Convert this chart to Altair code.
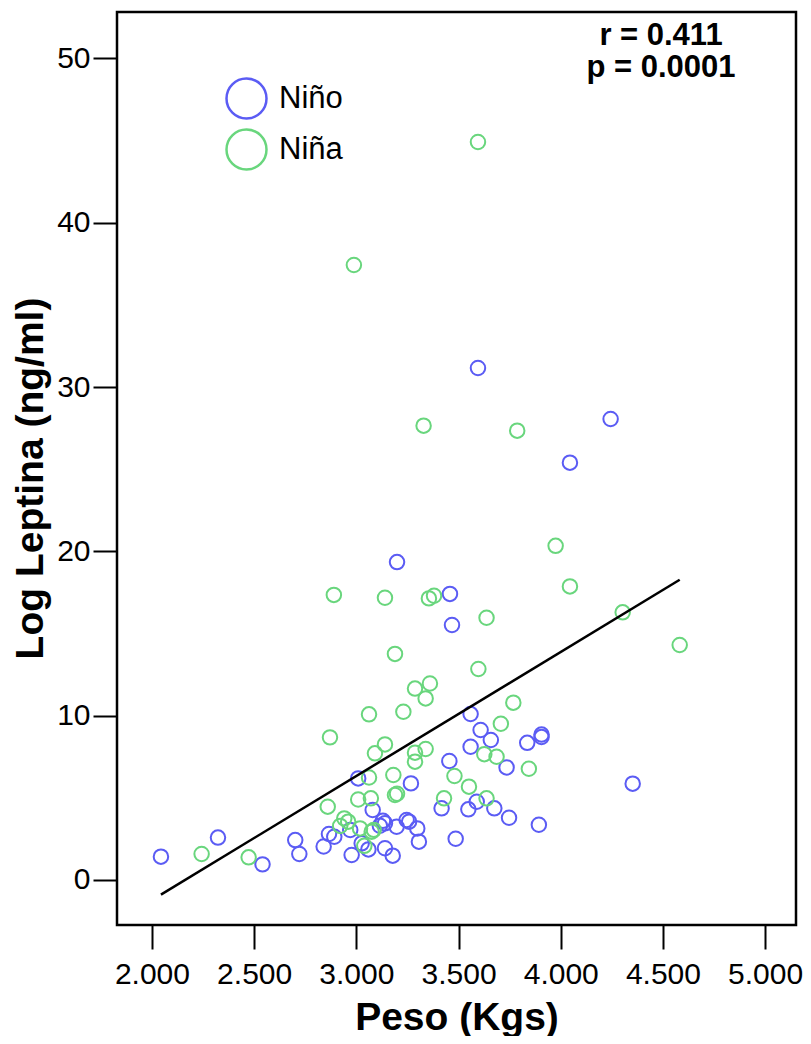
import altair as alt
import pandas as pd

FONT = "Liberation Sans"

# Niño (blue)
nino_peso = [2.044, 2.323, 2.541, 2.701, 2.721, 2.840, 2.866, 2.892, 2.970, 2.977,
             3.009, 3.026, 3.059, 3.080, 3.115, 3.130, 3.140, 3.140, 3.178, 3.197,
             3.199, 3.246, 3.258, 3.267, 3.298, 3.306, 3.417, 3.455, 3.458, 3.468,
             3.486, 3.548, 3.559, 3.559, 3.589, 3.595, 3.608, 3.658, 3.675, 3.735,
             3.747, 3.836, 3.893, 3.906, 3.906, 4.045, 4.244, 4.352]
nino_leptina = [1.42, 2.58, 0.95, 2.43, 1.58, 2.04, 2.80, 2.63, 3.04, 1.52,
                6.18, 2.23, 1.86, 4.26, 3.30, 3.60, 3.45, 1.93, 1.48, 3.24,
                19.35, 3.65, 3.55, 5.88, 3.14, 2.33, 4.36, 7.24, 17.41, 15.52,
                2.51, 4.30, 8.11, 10.10, 4.76, 31.16, 9.13, 8.52, 4.36, 6.85,
                3.79, 8.35, 3.36, 8.70, 8.85, 25.40, 28.06, 5.86]

# Niña (green)
nina_peso = [2.243, 2.473, 2.860, 2.871, 2.890, 2.921, 2.941, 2.960, 2.988, 3.009,
             3.018, 3.039, 3.062, 3.062, 3.071, 3.075, 3.085, 3.091, 3.140, 3.140,
             3.181, 3.189, 3.199, 3.189, 3.230, 3.287, 3.287, 3.287, 3.329, 3.339,
             3.339, 3.355, 3.360, 3.380, 3.429, 3.480, 3.551, 3.595, 3.597, 3.626,
             3.637, 3.637, 3.686, 3.707, 3.768, 3.787, 3.844, 3.975, 4.045, 4.303,
             4.582]
nina_leptina = [1.58, 1.38, 4.46, 8.68, 17.35, 3.29, 3.75, 3.55, 37.43, 4.90,
                3.14, 2.08, 6.24, 10.08, 4.97, 2.94, 3.05, 7.71, 8.25, 17.18,
                6.39, 5.17, 5.25, 13.76, 10.24, 11.65, 7.20, 7.75, 27.65, 11.05,
                7.97, 17.14, 11.96, 17.30, 4.97, 6.33, 5.68, 44.92, 12.84, 7.66,
                15.96, 4.97, 7.50, 9.51, 10.79, 27.35, 6.77, 20.34, 17.87, 16.29,
                14.30]

groups = ["Niño", "Niña"]
group_colors = ["#5b5cf4", "#69d67d"]
x_ticks = [2.0, 2.5, 3.0, 3.5, 4.0, 4.5, 5.0]
y_ticks = [0, 10, 20, 30, 40, 50]
stats_lines = ["r = 0.411", "p = 0.0001"]

rows = []
for p, l in zip(nino_peso, nino_leptina):
    rows.append({"peso": p, "leptina": l, "sexo": "Niño"})
for p, l in zip(nina_peso, nina_leptina):
    rows.append({"peso": p, "leptina": l, "sexo": "Niña"})
df = pd.DataFrame(rows)

x_scale = alt.Scale(domain=[1.829, 5.151], nice=False, zero=False)
y_scale = alt.Scale(domain=[-2.74, 52.83], nice=False, zero=False)

x_axis = alt.Axis(
    title="Peso (Kgs)", values=x_ticks, labelExpr="format(datum.value, '.3f')",
    grid=False, domain=False, tickSize=24, tickWidth=2, tickColor="black",
    labelFontSize=30, labelFont=FONT, labelColor="black", labelPadding=10,
    labelFlush=False, labelOverlap=False,
    titleFontSize=39, titleFont=FONT, titleFontWeight="bold", titleColor="black",
    titleY=104, titleBaseline="alphabetic",
)
y_axis = alt.Axis(
    title="Log Leptina (ng/ml)", values=y_ticks,
    grid=False, domain=False, tickSize=24, tickWidth=2, tickColor="black",
    labelFontSize=30, labelFont=FONT, labelColor="black", labelPadding=3,
    labelOverlap=False,
    titleFontSize=39, titleFont=FONT, titleFontWeight="bold", titleColor="black",
    titleX=-75, titleY=466, titleAngle=-90, titleAlign="center",
    titleBaseline="alphabetic",
)

color = alt.Color(
    "sexo:N",
    scale=alt.Scale(domain=groups, range=group_colors),
    legend=alt.Legend(
        orient="none", legendX=108, legendY=65, title=None,
        symbolType="circle", symbolSize=1600, symbolStrokeWidth=2.5,
        labelFontSize=31, labelFont=FONT, labelColor="black", labelOffset=11,
        rowPadding=0, padding=0,
    ),
)

points = alt.Chart(df).mark_point(filled=False, size=210, strokeWidth=2, opacity=1).encode(
    x=alt.X("peso:Q", scale=x_scale, axis=x_axis),
    y=alt.Y("leptina:Q", scale=y_scale, axis=y_axis),
    color=color,
)

fit = alt.Chart(df).transform_regression("peso", "leptina").mark_line(
    color="black", strokeWidth=2.5
).encode(
    x=alt.X("peso:Q", scale=x_scale),
    y=alt.Y("leptina:Q", scale=y_scale),
)

stats = alt.Chart(pd.DataFrame({"k": [0]})).mark_text(
    text=stats_lines, fontSize=31, fontWeight="bold", font=FONT, color="black",
    align="center", baseline="alphabetic", lineHeight=32,
).encode(x=alt.value(544), y=alt.value(33))

chart = alt.layer(points, fit, stats).properties(
    width=679, height=913,
    autosize=alt.AutoSizeParams(type="none"),
    padding={"left": 109, "top": 4, "right": 7, "bottom": 111},
    background="white",
).configure_view(stroke="black", strokeWidth=2.5)

chart.save("out.html", embed_options={"renderer": "svg", "actions": False})
